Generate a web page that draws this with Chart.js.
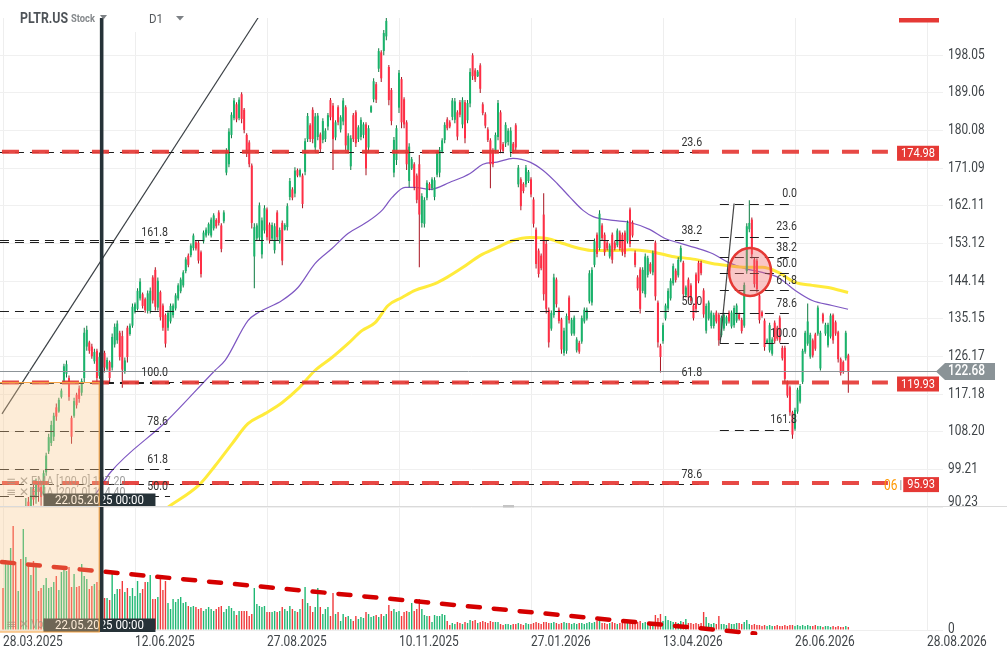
<!DOCTYPE html>
<html>
<head>
<meta charset="utf-8">
<script src="https://cdn.jsdelivr.net/npm/chart.js@4.4.1/dist/chart.umd.min.js"></script>
<style>
  html, body { margin: 0; padding: 0; background: #fff; }
  #c { display: block; }
</style>
</head>
<body>
<canvas id="c" width="1007" height="659"></canvas>
<script>
// PLTR.US, D1 candles from 28.03.2025: [open, high, low, close]
const ohlc = [
  [88.5,89.5,84.5,85.9],[84.0,86.0,81.5,84.4],[83.5,88.0,82.5,87.6],[85.5,89.7,84.5,89.3],[86.0,86.5,82.0,83.6],
  [80.0,80.9,73.0,74.0],[70.0,83.0,66.1,77.8],[82.0,83.5,74.5,77.8],[76.0,90.0,75.0,88.6],[86.0,92.4,84.5,90.5],
  [91.5,92.6,86.5,89.0],[90.0,95.0,89.8,93.0],[94.5,95.6,90.6,92.0],[92.5,97.0,91.0,95.5],[95.5,96.2,91.5,93.8],
  [95.0,96.5,90.5,92.6],[93.5,99.0,93.0,98.3],[98.5,103.2,97.7,102.5],[103.5,107.7,102.9,106.9],[105.5,110.8,104.8,109.8],
  [107.0,112.7,106.0,112.0],[114.0,114.9,110.8,111.8],[113.0,116.3,112.7,115.8],[116.5,118.5,116.1,118.0],[120.0,124.4,119.7,123.8],
  [122.0,125.2,121.1,124.3],[121.0,121.6,115.6,116.5],[111.5,112.0,105.3,107.0],[112.0,116.3,111.5,115.5],[117.0,117.5,113.7,114.5],
  [118.5,119.2,115.1,116.0],[117.5,120.9,116.8,120.3],[121.0,133.0,119.9,131.8],[128.5,133.5,127.5,132.5],[129.5,129.9,126.8,127.5],
  [128.5,129.2,125.6,126.2],[125.0,128.0,124.4,127.2],[127.5,128.0,119.7,121.0],[121.5,127.1,120.8,126.0],[125.8,126.3,122.3,123.0],
  [127.0,127.5,122.3,123.5],[123.2,125.9,122.8,125.3],[124.8,125.2,119.9,121.0],[123.5,131.6,122.8,130.8],[129.0,134.0,128.3,133.2],
  [130.0,134.7,129.2,134.0],[131.8,132.3,125.2,126.0],[131.0,132.3,118.7,123.0],[122.5,125.9,122.0,125.2],[133.0,133.5,124.7,126.0],
  [131.5,134.0,131.1,133.5],[133.5,138.8,133.0,138.0],[136.8,139.0,136.4,138.6],[137.5,142.4,137.1,141.8],[140.0,144.8,139.5,144.0],
  [141.0,141.4,137.6,138.2],[139.8,140.2,136.6,137.2],[137.0,141.9,136.4,141.2],[137.0,142.6,136.4,141.8],[145.0,145.5,138.8,139.5],
  [146.8,147.4,137.1,138.0],[137.8,145.0,137.1,144.2],[141.5,141.9,134.7,135.5],[138.3,138.8,132.3,133.0],[136.0,136.4,128.3,129.2],
  [133.0,137.1,132.3,136.5],[134.5,138.8,134.0,138.2],[136.0,138.8,135.4,138.3],[137.6,141.2,137.1,140.7],[140.0,143.6,139.5,143.1],
  [141.7,145.0,141.2,144.5],[143.1,146.7,142.6,146.2],[146.5,149.8,146.0,149.3],[150.2,150.7,147.4,148.0],[150.3,153.1,149.8,152.6],
  [152.0,155.5,151.4,155.0],[153.4,153.8,151.4,151.9],[153.3,153.8,148.3,149.0],[151.0,151.4,145.0,145.8],[153.6,156.2,153.1,155.7],
  [155.0,156.9,154.5,156.4],[155.5,158.1,155.0,157.7],[155.0,159.3,154.5,158.8],[156.7,160.3,156.2,159.8],[158.7,159.1,156.7,157.2],
  [160.5,161.0,157.4,158.0],[157.4,157.9,151.0,151.8],[158.4,161.0,157.9,160.5],[170.0,175.8,169.4,175.0],[172.0,180.6,171.3,179.8],
  [179.0,184.4,178.2,183.8],[183.0,187.8,182.5,187.2],[186.3,186.8,182.0,182.7],[183.0,188.0,182.5,187.4],[188.7,189.2,181.8,182.8],
  [185.0,185.4,179.4,180.2],[179.0,179.4,173.7,174.5],[177.2,177.7,171.3,172.0],[171.7,172.2,156.7,158.0],[150.0,157.9,142.4,157.0],
  [154.3,157.9,153.8,157.4],[154.5,162.9,153.8,162.2],[150.5,159.3,149.5,158.6],[156.2,162.2,155.5,161.5],[161.2,161.7,153.8,154.6],
  [157.6,158.1,153.1,153.8],[154.3,158.1,153.8,157.5],[151.5,157.9,150.7,157.2],[160.5,161.0,153.8,154.6],[153.7,156.9,153.1,156.3],
  [158.0,158.6,147.9,149.0],[156.4,157.9,156.2,157.5],[157.0,162.7,156.2,162.0],[164.2,168.7,163.4,168.0],[166.0,166.5,163.4,164.0],
  [165.0,171.3,164.1,170.5],[170.6,171.0,168.9,169.3],[169.3,171.0,168.9,170.6],[169.3,169.8,161.5,162.5],[170.2,178.2,169.4,177.5],
  [178.0,184.2,177.3,183.5],[181.3,181.8,177.3,178.0],[185.0,185.6,177.0,178.0],[176.0,184.2,174.9,183.4],[178.5,184.2,177.7,183.6],
  [179.1,179.6,174.9,175.6],[177.8,183.0,177.0,182.3],[178.0,180.6,177.3,180.0],[181.0,184.2,180.1,183.7],[187.3,187.8,182.5,183.2],
  [186.0,186.6,170.6,178.0],[178.4,182.5,177.7,182.0],[185.6,186.1,181.3,182.0],[180.3,183.7,179.6,183.2],[182.2,187.8,181.3,187.2],
  [185.6,186.1,175.3,176.5],[175.3,179.4,174.6,178.8],[171.5,178.9,170.6,178.2],[183.7,184.2,177.3,178.0],[184.4,184.9,176.1,177.0],
  [178.0,181.3,177.3,180.8],[178.5,183.2,177.7,182.6],[179.0,182.0,178.2,181.5],[181.5,182.0,169.4,171.0],[176.0,181.3,174.9,180.6],
  [184.5,186.1,184.2,185.8],[187.5,192.5,186.8,191.8],[191.1,191.6,186.6,187.4],[194.8,199.7,194.0,199.0],[198.7,199.2,191.6,192.5],
  [199.0,204.0,198.0,203.3],[202.5,206.9,201.6,206.2],[195.2,195.7,186.1,187.3],[189.7,190.2,181.3,182.3],[170.0,178.5,168.9,177.8],
  [173.0,181.3,171.8,180.6],[185.5,194.5,184.2,193.8],[192.3,192.8,180.6,182.0],[187.5,188.0,180.6,181.5],[182.0,182.5,170.6,172.0],
  [168.0,177.0,166.5,176.2],[171.0,173.7,170.6,173.2],[172.0,172.5,165.8,166.6],[169.3,169.8,162.7,163.5],[172.0,174.2,147.4,160.0],
  [158.0,165.1,156.9,164.4],[157.8,164.1,156.9,163.5],[164.0,168.2,163.4,167.6],[167.3,167.7,165.8,166.2],[166.3,168.9,165.8,168.4],
  [164.2,168.9,163.4,168.2],[169.5,175.3,168.9,174.7],[170.0,176.1,168.9,175.4],[175.0,178.2,174.6,177.7],[177.8,182.0,177.0,181.4],
  [182.7,183.2,180.1,180.6],[182.0,182.5,180.6,181.0],[183.3,187.8,182.5,187.2],[182.6,187.8,181.8,187.0],[184.4,184.9,177.7,178.6],
  [186.8,187.3,183.2,183.8],[181.5,188.0,180.6,187.3],[186.8,187.3,177.0,178.2],[182.5,187.3,181.8,186.6],[186.5,194.9,185.6,194.0],
  [198.0,198.5,192.1,193.0],[194.4,194.9,191.6,192.2],[193.0,194.5,192.8,194.1],[195.6,196.1,189.0,190.0],[186.3,186.8,183.7,184.2],
  [183.9,184.4,180.6,181.2],[180.3,180.8,177.3,177.8],[177.7,178.2,166.3,172.0],[175.3,175.8,171.3,172.0],[175.3,179.6,174.6,179.0],
  [178.5,187.3,177.7,186.6],[184.4,184.9,174.6,175.5],[176.8,177.3,174.6,175.2],[177.0,182.0,176.1,181.4],[177.3,180.6,176.5,180.0],
  [175.0,180.8,173.7,180.0],[176.9,177.3,174.6,175.2],[181.3,181.8,175.3,176.0],[167.2,171.8,166.5,171.2],[168.4,168.9,161.0,162.0],
  [167.3,167.7,165.1,165.6],[167.2,171.8,166.5,171.2],[168.0,170.6,167.5,170.2],[168.4,168.9,164.1,164.8],[163.6,164.1,156.9,157.8],
  [156.4,156.9,147.1,148.2],[151.4,151.9,145.0,145.8],[150.2,150.7,146.7,147.2],[160.0,165.1,139.5,141.0],[153.0,153.8,136.4,137.5],
  [137.3,137.8,128.3,129.5],[132.8,137.1,132.3,136.5],[136.0,145.9,135.4,145.0],[144.5,145.0,137.8,138.6],[137.3,137.8,134.0,134.6],
  [135.0,135.4,126.8,127.8],[127.0,133.0,126.3,132.3],[127.5,136.4,126.8,135.8],[140.2,140.7,134.0,134.8],[131.6,135.4,131.1,134.9],
  [131.6,135.9,131.1,135.4],[127.6,130.7,127.1,130.2],[129.4,129.9,126.8,127.3],[129.7,135.9,129.2,135.3],[134.5,137.8,134.0,137.3],
  [135.2,137.8,134.7,137.3],[139.3,146.7,138.8,146.0],[139.0,147.4,138.3,146.8],[148.0,154.3,147.4,153.6],[155.2,155.7,149.8,150.6],
  [152.0,161.0,151.4,160.2],[157.4,157.9,153.8,154.4],[155.2,155.7,150.2,151.0],[153.3,153.8,151.4,151.9],[150.0,153.1,149.5,152.6],
  [155.2,155.7,148.3,149.2],[153.3,153.8,151.4,151.9],[152.7,156.7,152.2,156.2],[155.7,156.2,151.4,152.0],[155.2,155.7,150.2,151.0],
  [155.7,156.2,149.8,150.6],[153.6,158.6,153.1,158.0],[161.2,161.7,152.2,153.0],[158.1,158.6,154.5,155.0],[150.9,151.4,147.4,148.0],
  [145.0,145.5,141.9,142.4],[146.9,147.4,136.4,137.5],[141.8,147.4,141.2,146.8],[141.0,150.7,140.2,150.0],[145.6,150.2,145.0,149.6],
  [148.2,148.6,145.9,146.4],[146.2,151.4,145.5,150.8],[153.3,153.8,139.5,140.5],[139.0,139.5,128.3,129.5],[128.7,129.2,122.3,126.0],
  [129.8,134.2,129.2,133.6],[135.2,138.8,134.7,138.3],[137.6,142.4,137.1,141.8],[140.0,144.8,139.5,144.2],[143.6,148.3,143.1,147.7],
  [146.6,147.1,143.8,144.4],[145.5,149.8,145.0,149.2],[149.0,152.6,148.6,152.0],[148.5,149.0,140.0,141.0],[140.7,143.1,140.2,142.6],
  [144.5,145.0,139.5,140.2],[143.1,143.6,138.8,139.4],[138.3,138.8,134.7,135.3],[145.7,146.2,136.6,137.5],[148.5,149.0,143.6,144.2],
  [148.5,149.0,145.5,146.0],[141.9,142.4,135.4,136.2],[132.3,138.8,131.6,138.2],[135.2,139.5,134.7,139.0],[133.4,137.1,132.8,136.6],
  [133.4,136.6,132.8,136.0],[136.6,137.1,134.0,134.5],[136.1,136.6,128.7,130.0],[131.2,135.9,130.7,135.4],[132.8,136.6,132.3,136.1],
  [134.0,135.9,133.5,135.5],[136.6,137.1,134.0,134.5],[133.3,137.1,132.8,136.6],[133.6,138.3,133.0,137.7],[134.7,138.8,134.2,138.3],
  [136.2,136.6,134.7,135.1],[134.9,135.4,131.6,132.2],[133.5,143.8,133.0,143.2],[146.5,157.9,145.9,157.2],[156.5,163.4,155.8,158.0],
  [158.8,159.3,149.5,150.5],[149.3,149.8,142.6,143.4],[149.0,149.5,141.4,142.2],[140.7,141.2,134.0,134.8],[136.7,137.1,135.4,135.8],
  [134.7,135.2,127.5,128.4],[129.4,130.4,129.2,130.0],[127.6,134.2,127.1,133.6],[126.8,130.7,126.3,130.2],[134.2,134.7,129.2,129.8],
  [133.0,133.5,129.9,130.4],[135.4,135.9,129.4,130.0],[128.2,128.7,125.2,125.7],[128.2,128.7,119.9,120.8],[120.0,120.4,116.3,116.8],
  [118.8,119.2,112.0,112.8],[112.8,113.2,106.5,107.5],[108.9,113.9,108.4,113.4],[113.0,118.7,112.5,118.2],[115.4,119.6,114.9,119.1],
  [120.1,128.0,119.6,127.5],[127.3,132.3,126.8,131.8],[129.2,138.8,128.7,134.5],[126.1,131.8,125.6,131.3],[130.0,130.4,125.9,126.4],
  [131.4,131.8,127.5,128.0],[131.6,138.3,131.1,137.8],[123.3,132.3,122.8,131.8],[136.2,136.6,134.0,134.5],[131.6,134.2,131.1,133.7],
  [128.8,134.2,128.3,133.7],[130.9,136.4,130.4,135.9],[136.0,136.4,129.2,130.0],[134.3,134.7,131.1,131.6],[131.9,132.3,124.7,125.5],
  [125.5,125.9,121.6,122.2],[124.8,125.2,122.0,122.5],[125.7,132.3,125.2,131.8],[126.4,126.8,117.5,122.68]
];

// daily volume, millions
const volume = [
  42, 70, 66, 82, 104, 68, 39, 71, 101, 73,
  66, 55, 69, 63, 39, 42, 45, 52, 42, 43,
  48, 54, 40, 58, 63, 59, 63, 43, 56, 43,
  44, 66, 54, 51, 41, 44, 46, 48, 40, 29,
  32, 32, 30, 56, 36, 41, 41, 49, 38, 42,
  34, 42, 34, 49, 37, 41, 48, 48, 55, 31,
  31, 33, 54, 40, 49, 27, 21, 31, 28, 31,
  33, 27, 28, 24, 23, 24, 23, 21, 22, 19,
  21, 23, 21, 19, 21, 23, 24, 18, 21, 24,
  22, 19, 15, 19, 19, 19, 19, 14, 16, 42,
  26, 24, 23, 24, 18, 18, 18, 19, 18, 19,
  23, 21, 19, 24, 21, 19, 18, 21, 31, 43,
  27, 24, 18, 23, 42, 23, 16, 21, 23, 14,
  37, 16, 18, 9, 16, 13, 14, 11, 9, 14,
  11, 13, 12, 18, 16, 13, 14, 15, 13, 16,
  14, 16, 25, 19, 21, 18, 19, 14, 18, 19,
  18, 27, 19, 21, 31, 21, 15, 14, 14, 8,
  15, 14, 14, 16, 15, 9, 5, 7, 6, 8,
  7, 6, 8, 7, 10, 9, 10, 7, 8, 9,
  8, 7, 9, 8, 8, 8, 6, 5, 6, 6,
  5, 6, 6, 7, 6, 5, 7, 6, 6, 7,
  8, 7, 6, 8, 8, 7, 7, 8, 7, 6,
  7, 8, 7, 7, 6, 7, 6, 7, 7, 6,
  7, 8, 7, 8, 9, 9, 7, 7, 6, 7,
  8, 7, 6, 7, 8, 7, 8, 10, 8, 10,
  8, 9, 7, 8, 6, 7, 8, 15, 12, 16,
  9, 14, 10, 9, 8, 8, 7, 9, 8, 11,
  7, 7, 6, 7, 6, 7, 18, 13, 7, 6,
  7, 6, 14, 6, 6, 5, 7, 6, 6, 7,
  7, 6, 8, 10, 6, 5, 6, 5, 5, 4,
  5, 4, 5, 4, 4, 5, 4, 4, 5, 4,
  5, 5, 4, 5, 4, 5, 4, 5, 4, 4,
  5, 4, 4, 3, 4, 4, 3, 4, 3, 4,
  3, 3, 4, 3
];

const tickIdx = [0, 52, 104, 156, 208, 260, 312, 364];
const tickLabels = ['28.03.2025', '12.06.2025', '27.08.2025', '10.11.2025', '27.01.2026', '13.04.2026', '26.06.2026', '28.08.2026'];
const priceTicks = [90.23, 99.21, 108.20, 117.18, 126.17, 135.15, 144.14, 153.12, 162.11, 171.09, 180.08, 189.06, 198.05];

// moving averages (bar index, price)
const ema100X = [32.7, 38.2, 42.2, 64.6, 83.5, 87.5, 96.5, 100.5, 109.9, 116.2, 122.9, 129.6, 135.9, 142.6, 149.3, 153.3, 158.4, 162.3, 168.2, 176.1, 184, 189.1, 194.6, 200.9, 207.6, 212.8, 218.3, 223.4, 228.5, 232.5, 240.3, 247, 254.9, 260.8, 266, 272.7, 279.4, 285.7, 292.4, 299.1, 305.4, 312.1, 318.8, 326.6, 332.9];
const ema100Y = [90.2, 94.8, 98.4, 110.8, 122.8, 125.2, 134.7, 136.6, 139.5, 142.6, 148.3, 151.9, 155.5, 157.9, 161.0, 164.1, 166.5, 166.5, 166.0, 167.7, 169.8, 172.0, 172.5, 173.4, 172.5, 170.5, 167.4, 164.1, 161.0, 159.5, 158.6, 158.1, 156.4, 154.3, 153.3, 152.1, 150.7, 148.6, 147.1, 146.2, 145.0, 141.9, 139.5, 138.3, 137.4];
const ema200X = [65, 77.6, 83.5, 90.2, 96.5, 103.2, 109.9, 116.2, 122.9, 129.6, 135.9, 141.4, 146.6, 151.7, 157.2, 162.3, 170.2, 174.9, 181.2, 187.9, 194.6, 200.9, 207.6, 214.3, 220.6, 227.3, 232.5, 240.3, 247, 254.9, 263.6, 272.7, 279.4, 285.7, 292.4, 299.1, 305.4, 312.1, 318.8, 325.1, 332.9];
const ema200Y = [90.2, 95.7, 100.0, 105.3, 110.1, 112.5, 115.1, 118.4, 122.8, 125.9, 129.2, 132.3, 134.2, 138.3, 140.2, 141.9, 143.5, 145.0, 147.4, 150.2, 152.1, 153.8, 154.5, 154.3, 153.1, 151.9, 151.4, 151.4, 151.6, 151.2, 150.0, 149.3, 148.3, 147.8, 147.4, 147.4, 146.2, 143.8, 143.1, 142.6, 141.4];

// drawings
const levels = [174.98, 119.93, 95.93];
const lastPrice = 122.68;
const trendX = [-0.4, 100.5], trendY = [112.43, 206.94];
const volTrendX = [-0.4, 296.3], volTrendY = [68, -3.5];
const fibA = [65.79, 119.93], fibALevels = [50, 61.8, 78.6, 100, 161.8];
const fibB = [208.99, 64.89], fibBLevels = [23.6, 38.2, 50, 61.8, 78.6];
const fibC = [162.62, 129.30], fibCLevels = [0, 23.6, 38.2, 50, 61.8, 78.6, 100, 161.8];
const fibCLegX = [282.5, 288.0], fibCLegY = [129.30, 162.62];
const circleAt = [294.3, 146.32];
const crossIdx = 38;

const fibSets = [
  { p: fibA, levels: fibALevels, from: -1.2, to: 65.8, labelAt: 65.0 },
  { p: fibB, levels: fibBLevels, from: -1.2, to: 276.5, labelAt: 275.4 },
  { p: fibC, levels: fibCLevels, from: 282.4, to: 310.8, labelAt: 312.8 }
];

const SX = 0.85; // screenshot text is a bit narrow
const FONT = 'Roboto, "Noto Sans", sans-serif';

function text(ctx, s, x, y, size, color, align, base, weight) {
  ctx.save();
  ctx.font = (weight || '') + ' ' + size + 'px ' + FONT;
  ctx.fillStyle = color;
  ctx.textAlign = align || 'left';
  ctx.textBaseline = base || 'middle';
  ctx.translate(x, y);
  ctx.scale(SX, 1);
  ctx.fillText(s, 0, 0);
  ctx.restore();
}
function textW(ctx, s, size) {
  ctx.save();
  ctx.font = size + 'px ' + FONT;
  const w = ctx.measureText(s).width * SX;
  ctx.restore();
  return w;
}
function dashLine(ctx, x1, y1, x2, y2, color, w, dash) {
  ctx.save();
  ctx.strokeStyle = color;
  ctx.lineWidth = w;
  ctx.setLineDash(dash || []);
  ctx.beginPath();
  ctx.moveTo(x1, y1);
  ctx.lineTo(x2, y2);
  ctx.stroke();
  ctx.restore();
}

const overlay = {
  id: 'overlay',
  afterDatasetsDraw(chart) {
    const { ctx, chartArea: a, scales: { x, y } } = chart;
    const X = v => x.getPixelForValue(v);
    const Y = v => y.getPixelForValue(v);
    const pb = y.bottom;

    // fib retracement lines
    fibSets.forEach(f => f.levels.forEach(L => {
      const yy = Math.round(Y(f.p[0] + (f.p[1] - f.p[0]) * L / 100)) + 0.5;
      dashLine(ctx, X(f.from), yy, X(f.to), yy, '#1e1e1e', 1, [9, 6]);
    }));

    // horizontal levels
    levels.forEach(p => dashLine(ctx, X(-0.4), Y(p), X(348.6), Y(p), 'rgba(229,57,53,0.92)', 4, [17, 13]));

    // last price line
    const ly = Math.round(Y(lastPrice)) + 0.5;
    dashLine(ctx, a.left, ly, 937, ly, '#8d9498', 1);

    // highlighted zone
    ctx.save();
    ctx.beginPath();
    ctx.ellipse(X(circleAt[0]), Y(circleAt[1]), 21, 24, 0, 0, Math.PI * 2);
    ctx.fillStyle = 'rgba(240,105,105,0.38)';
    ctx.fill();
    ctx.lineWidth = 2.5;
    ctx.strokeStyle = '#e53935';
    ctx.stroke();
    ctx.restore();

    // indicator legends
    const lg = 'rgba(120,120,120,0.75)';
    [[482, 'EMA [100, 0] 127.20'], [493, 'EMA [200, 0] 114.40'], [625, 'Vol']].forEach(([ty, s]) => {
      ctx.save();
      ctx.font = '12px "DejaVu Sans"';
      ctx.fillStyle = lg;
      ctx.textBaseline = 'middle';
      ctx.fillText('\u2261', 6, ty);
      ctx.fillText('\u2715', 19, ty);
      ctx.restore();
      text(ctx, s, 31, ty, 12.5, lg);
    });

    // crosshair date boxes
    const cx = X(crossIdx);
    [pb, a.bottom + 1].forEach(b => {
      ctx.fillStyle = '#263238';
      ctx.fillRect(cx - 56, b - 13.5, 112, 13.5);
      text(ctx, '22.05.2025 00:00', cx, b - 6.3, 13.5, '#ffffff', 'center');
    });

    // shaded range up to the crosshair
    const oy = Y(levels[1]);
    ctx.fillStyle = 'rgba(250,200,140,0.35)';
    ctx.fillRect(a.left, oy, cx - a.left, a.bottom + 1 - oy);
    ctx.save();
    ctx.strokeStyle = '#f5a142';
    ctx.lineWidth = 1.2;
    ctx.beginPath();
    ctx.moveTo(a.left, oy);
    ctx.lineTo(cx - 0.2, oy);
    ctx.lineTo(cx - 0.2, a.bottom + 1);
    ctx.lineTo(a.left, a.bottom + 1);
    ctx.stroke();
    ctx.restore();

    // crosshair line
    ctx.fillStyle = '#263238';
    ctx.fillRect(cx + 0.4, a.top, 3.6, a.bottom + 1 - a.top);

    // fib labels
    fibSets.forEach(f => f.levels.forEach(L => {
      const yy = Y(f.p[0] + (f.p[1] - f.p[0]) * L / 100);
      text(ctx, L.toFixed(1), X(f.labelAt), yy - 3, 12.5, '#333333', 'right', 'bottom');
    }));
  },
  afterDraw(chart) {
    const { ctx, chartArea: a, scales: { x, y, yv } } = chart;
    const X = v => x.getPixelForValue(v);
    const Y = v => y.getPixelForValue(v);
    const axisColor = '#3f4448';

    // pane separator
    dashLine(ctx, 0, y.bottom - 0.5, 1007, y.bottom - 0.5, '#dadada', 1);
    ctx.fillStyle = '#c4c4c4';
    ctx.fillRect(503, y.bottom - 2, 11, 2.5);

    // price axis labels
    priceTicks.forEach(v => {
      const yy = Math.min(Y(v), y.bottom - 5);
      text(ctx, v.toFixed(2), 948, yy, 14, axisColor);
    });
    text(ctx, '0', 948, yv.getPixelForValue(0) - 1, 14, axisColor);

    // date axis labels
    tickIdx.forEach((t, k) => text(ctx, tickLabels[k], X(t), 642, 14, axisColor));

    // level tags
    levels.forEach(p => {
      const s = p.toFixed(2);
      const w = textW(ctx, s, 13) + 8;
      const yy = Y(p) + 1.5;
      ctx.fillStyle = '#e53935';
      ctx.fillRect(939 - w, yy - 7.5, w, 15);
      text(ctx, s, 939 - w / 2, yy + 0.5, 13, '#ffffff', 'center');
    });
    text(ctx, '06', 884, Y(levels[2]) + 3.5, 14, '#ff9800');
    ctx.fillStyle = '#bdbdbd';
    ctx.fillRect(900, Y(levels[2]) - 3, 1.5, 10);
    ctx.fillStyle = '#e53935';
    ctx.fillRect(899, a.top, 40, 4.5);

    // last price tag
    const ly = Y(lastPrice) + 0.5;
    ctx.fillStyle = '#8a9397';
    ctx.beginPath();
    ctx.moveTo(936, ly);
    ctx.lineTo(945, ly - 8.5);
    ctx.lineTo(995, ly - 8.5);
    ctx.lineTo(995, ly + 8.5);
    ctx.lineTo(945, ly + 8.5);
    ctx.closePath();
    ctx.fill();
    text(ctx, lastPrice.toFixed(2), 948, ly + 0.5, 14, '#ffffff', 'left', 'middle', '500');

    // header
    ctx.fillStyle = '#ffffff';
    ctx.fillRect(128, 0, 70, 32);
    text(ctx, 'PLTR.US', 20, 19, 14.5, '#4e5358', 'left', 'middle', 'bold');
    text(ctx, 'Stock', 71, 19, 11, '#85898c', 'left', 'middle', 'bold');
    ctx.fillStyle = '#7d8185';
    ctx.beginPath(); ctx.moveTo(100, 15); ctx.lineTo(107, 15); ctx.lineTo(103.5, 19.5); ctx.closePath(); ctx.fill();
    text(ctx, 'D1', 149, 20, 13.5, '#55595d');
    ctx.beginPath(); ctx.moveTo(176, 16); ctx.lineTo(184, 16); ctx.lineTo(180, 20.5); ctx.closePath(); ctx.fill();
  }
};

const up = ohlc.map(d => d[3] >= d[0]);
const pts = (xs, ys) => xs.map((v, i) => ({ x: v, y: ys[i] }));
// datasets are already clipped to their own pane; let the volume trend run a few px past it
const volTrendClip = { left: 0, top: 0, right: 0, bottom: 4 };
const X_MIN = -1.182, X_MAX = 370.30;

new Chart(document.getElementById('c'), {
  type: 'bar',
  data: {
    datasets: [
      { type: 'line', data: pts(trendX, trendY), borderColor: '#3b4045', borderWidth: 1.2, pointRadius: 0, order: 0 },
      { type: 'line', data: pts(fibCLegX, fibCLegY), borderColor: '#444444', borderWidth: 1.2, pointRadius: 0, order: 0 },
      { type: 'line', yAxisID: 'yv', data: pts(volTrendX, volTrendY), borderColor: '#d50000', borderWidth: 4.5,
        borderDash: [12, 14], borderCapStyle: 'round', pointRadius: 0, clip: volTrendClip, order: 0 },
      { type: 'bar', data: ohlc.map((d, i) => ({ x: i, y: [d[0], d[3]] })),
        backgroundColor: up.map(u => u ? '#19b36b' : '#ff2e45'),
        barThickness: 2, minBarLength: 1, grouped: false, inflateAmount: 0, order: 1 },
      { type: 'bar', data: ohlc.map((d, i) => ({ x: i, y: [d[2], d[1]] })),
        backgroundColor: up.map(u => u ? '#0b7a40' : '#a8121f'),
        barThickness: 1, grouped: false, inflateAmount: 0, order: 2 },
      { type: 'line', data: pts(ema200X, ema200Y), borderColor: '#ffeb3b', borderWidth: 3, pointRadius: 0,
        cubicInterpolationMode: 'monotone', order: 3 },
      { type: 'line', data: pts(ema100X, ema100Y), borderColor: '#7e57c2', borderWidth: 1.2, pointRadius: 0,
        cubicInterpolationMode: 'monotone', order: 3 },
      { type: 'bar', yAxisID: 'yv', data: volume.map((v, i) => ({ x: i, y: v })),
        backgroundColor: up.map(u => u ? '#1fb873' : '#f0393b'),
        barThickness: 1.4, grouped: false, inflateAmount: 0, order: 4 }
    ]
  },
  options: {
    responsive: false,
    animation: false,
    events: [],
    devicePixelRatio: 1,
    layout: { padding: { top: 18, left: 0, right: 0, bottom: 0 } },
    plugins: { legend: { display: false }, tooltip: { enabled: false } },
    scales: {
      x: {
        type: 'linear', min: X_MIN, max: X_MAX, offset: false,
        grid: { color: '#eeeeee', drawTicks: false, offset: false },
        border: { display: false },
        ticks: { display: false },
        afterBuildTicks: s => { s.ticks = tickIdx.map(v => ({ value: v })); },
        afterFit: s => { s.height = 28; }
      },
      y: {
        position: 'right', stack: 'pane', stackWeight: 489, min: 90.23, max: 206.89,
        grid: { color: '#f0f0f0', drawTicks: false },
        border: { display: false },
        ticks: { display: false },
        afterBuildTicks: s => { s.ticks = priceTicks.map(v => ({ value: v })); },
        afterFit: s => { s.width = 64; }
      },
      yv: {
        position: 'right', stack: 'pane', stackWeight: 124, min: -1, max: 123,
        grid: { color: '#eeeeee', drawTicks: false },
        border: { display: false },
        ticks: { display: false },
        afterBuildTicks: s => { s.ticks = [{ value: 0 }]; },
        afterFit: s => { s.width = 64; }
      }
    }
  },
  plugins: [overlay]
});
</script>
</body>
</html>
